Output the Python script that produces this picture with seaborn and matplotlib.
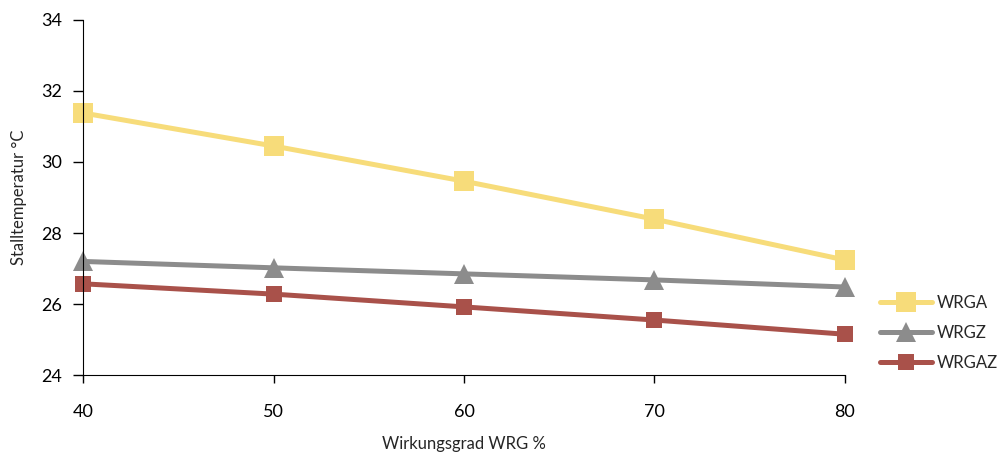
import pandas as pd
import seaborn as sns
import matplotlib.pyplot as plt

# Werte
wirkungsgrad = [40, 50, 60, 70, 80]
wrga = [31.38, 30.45, 29.46, 28.39, 27.24]
wrgz = [27.20, 27.02, 26.85, 26.68, 26.48]
wrgaz = [26.57, 26.28, 25.92, 25.55, 25.15]

reihen = ['WRGA', 'WRGZ', 'WRGAZ']
farben = {'WRGA': '#F7DC7A', 'WRGZ': '#8C8C8C', 'WRGAZ': '#A9514A'}
marker = {'WRGA': 's', 'WRGZ': '^', 'WRGAZ': 's'}
groesse = {'WRGA': 14, 'WRGZ': 14, 'WRGAZ': 12}

datos = pd.DataFrame({
    'Wirkungsgrad': wirkungsgrad * 3,
    'Temperatur': wrga + wrgz + wrgaz,
    'Reihe': [r for r in reihen for _ in wirkungsgrad],
})

sns.set_style('ticks')
plt.rcParams['font.family'] = ['Lato', 'DejaVu Sans']

fig = plt.figure(figsize=(9.97, 4.53), dpi=100)
ax = fig.add_axes([0.0833, 0.172, 0.7642, 0.784])

for r in reihen:
    sns.lineplot(data=datos[datos['Reihe'] == r], x='Wirkungsgrad', y='Temperatur',
                 color=farben[r], marker=marker[r], markersize=groesse[r],
                 markeredgewidth=0, linewidth=3.6, label=r, ax=ax, clip_on=False)

ax.set_xlim(40, 80)
ax.set_ylim(24, 34)
ax.set_xticks(wirkungsgrad)
ax.set_yticks([24, 26, 28, 30, 32, 34])
ax.tick_params(axis='x', labelsize=13, length=6, width=1, colors='black', pad=15)
ax.tick_params(axis='y', labelsize=13, length=7, width=1, colors='black', pad=8)
sns.despine(ax=ax)
ax.spines['left'].set_color('black')
ax.spines['bottom'].set_color('black')
ax.set_xlabel('Wirkungsgrad WRG %', fontsize=12, labelpad=11)
ax.set_ylabel('Stalltemperatur °C', fontsize=12, labelpad=10)

ax.legend(loc='center left', bbox_to_anchor=(0.868, 0.265), bbox_transform=fig.transFigure,
          frameon=False, fontsize=12, handlelength=3.1, labelspacing=0.85, handletextpad=0.3)

plt.savefig('out.png', dpi=100)
plt.close()
